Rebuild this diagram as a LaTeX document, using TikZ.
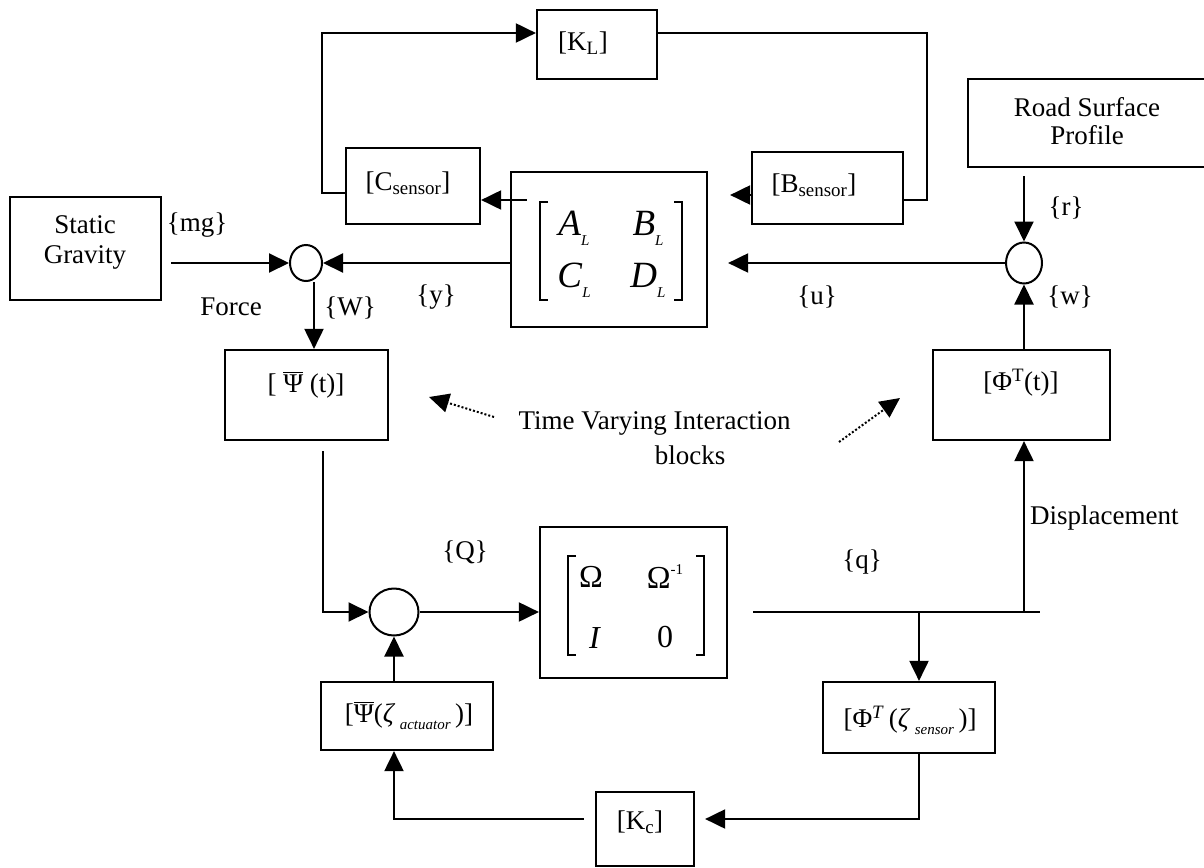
\documentclass[tikz,border=0pt]{standalone}
\usepackage{fontspec}
\setmainfont{Liberation Serif}
\usetikzlibrary{arrows.meta,calc,shapes.geometric}
\newcommand{\barpsi}{\vbox{\hrule height 1.4pt\kern 2pt\hbox{Ψ}}}
\newcommand{\lsub}{{\fontsize{15}{16}\selectfont\raisebox{-10pt}{\textit{L}}}}
\begin{document}
\begin{tikzpicture}[x=1pt,y=-1pt,
  every node/.style={font=\fontsize{27}{30}\selectfont, inner sep=0pt},
  blk/.style={draw, line width=2.2pt, inner sep=0pt},
  ln/.style={line width=2pt},
  arr/.style={ln, -{Triangle[length=20pt,width=19pt]}},
  dotarr/.style={line width=2pt, dotted, -{Triangle[length=20pt,width=19pt]}},
  sumj/.style={draw, ellipse, line width=2pt, inner sep=0pt},
  brk/.style={line width=2pt},
  mA/.style={font=\fontsize{37}{40}\selectfont},
  mB/.style={font=\fontsize{32}{36}\selectfont}]
\useasboundingbox (0,0) rectangle (1204,867);

% blocks
\node[blk, minimum width=120pt, minimum height=69pt]  (KL)   at (597,44.5) {};
\node[blk, minimum width=134pt, minimum height=76pt]  (Cs)   at (413,186) {};
\node[blk, minimum width=151pt, minimum height=72pt]  (Bs)   at (827.5,188) {};
\node[blk, minimum width=196pt, minimum height=155pt] (M1)   at (609,249.5) {};
\node[blk, minimum width=151pt, minimum height=103pt] (SG)   at (85.5,248.5) {};
\node[blk, minimum width=242pt, minimum height=88pt]  (RS)   at (1089,123) {};
\node[blk, minimum width=163pt, minimum height=90pt]  (PsiT) at (306.5,395) {};
\node[blk, minimum width=177pt, minimum height=90pt]  (PhiT) at (1021.5,395) {};
\node[blk, minimum width=187pt, minimum height=151pt] (M2)   at (633.5,602.5) {};
\node[blk, minimum width=172pt, minimum height=68pt]  (PsiA) at (407,716) {};
\node[blk, minimum width=172pt, minimum height=71pt]  (PhiS) at (909,717.5) {};
\node[blk, minimum width=98pt, minimum height=74pt]   (Kc)   at (645,829) {};

% summing junctions
\node[sumj, minimum width=32pt, minimum height=36pt] (c1) at (306,263) {};
\node[sumj, minimum width=36pt, minimum height=41pt] (c2) at (1024,263) {};
\node[sumj, minimum width=49pt, minimum height=47pt] (c3) at (394,612) {};

% block texts
\node (KLt) at (583,43) {[K\textsubscript{L}]};
\node (Cst) at (408,183) {[C\textsubscript{sensor}]};
\node (Bst) at (814,185) {[B\textsubscript{sensor}]};
\node[align=center] (SGt) at (85,242) {Static\\Gravity};
\node[align=center, font=\fontsize{27}{28}\selectfont] (RSt) at (1087,121) {Road Surface\\Profile};
\node (PsiTt) at (306,385) {[ \barpsi\ (t)]};
\node (PhiTt) at (1021,383) {[Φ\textsuperscript{T}(t)]};
\node (PsiAt) at (409,716) {[\barpsi(\textit{ζ}\,{\fontsize{15}{16}\selectfont\raisebox{-7pt}{\textit{actuator}}}\,)]};
\node (PhiSt) at (910,720) {[Φ\textsuperscript{\textit{T}}\,(\textit{ζ}\,{\fontsize{15}{16}\selectfont\raisebox{-7pt}{\textit{sensor}}}\,)]};
\node (Kct) at (640,822) {[K\textsubscript{c}]};

% matrix 1 entries
\node[mA] (AL) at (574,228) {\textit{A}\lsub};
\node[mA] (BL) at (648,228) {\textit{B}\lsub};
\node[mA] (CL) at (574,280) {\textit{C}\lsub};
\node[mA] (DL) at (648,280) {\textit{D}\lsub};
\draw[brk] (548,202) -- (540,202) -- (540,300) -- (548,300);
\draw[brk] (674,202) -- (682,202) -- (682,300) -- (674,300);

% matrix 2 entries
\node[mB] (Om)  at (591,577) {Ω};
\node[mB] (Omi) at (665,577) {Ω{\fontsize{15}{16}\selectfont\raisebox{14pt}{-1}}};
\node[mB] (Id)  at (595,638) {\textit{I}};
\node[mB] (Ze)  at (665,637) {0};
\draw[brk] (576,556) -- (568,556) -- (568,655) -- (576,655);
\draw[brk] (696,556) -- (704,556) -- (704,655) -- (696,655);

% signal labels
\node (mg)   at (197,225) {\{mg\}};
\node (frc)  at (231,307) {Force};
\node (W)    at (350,308) {\{W\}};
\node (ysig) at (436,297) {\{y\}};
\node (usig) at (817,297) {\{u\}};
\node (rsig) at (1066,208) {\{r\}};
\node (wsig) at (1070,297) {\{w\}};
\node (Qsig) at (465,552) {\{Q\}};
\node (qsig) at (862,562) {\{q\}};
\node[anchor=west] (disp) at (1030,518) {Displacement};
\node (tv1) at (654.5,423) {Time Varying Interaction};
\node (tv2) at (690,455) {blocks};

% loop through K_L
\coordinate (csout) at ([yshift=-7pt]Cs.west);
\coordinate (klin)  at ([yshift=11.5pt]KL.west);
\coordinate (klout) at ([yshift=11.5pt]KL.east);
\coordinate (bsin)  at ([yshift=-12pt]Bs.east);
\coordinate (bsout) at ([yshift=-7pt]Bs.west);
\coordinate (csin)  at ([yshift=-14pt]Cs.east);
\draw[arr] (csout) -- ++(-23,0) |- (klin);
\draw[ln] (klout) -- ++(269,0) |- (bsin);
\draw[arr, shorten >=22pt] (bsout) -- (bsout -| M1.east);
\draw[arr, shorten <=-17pt] (csin -| M1.west) -- (csin);

% upper junction (gravity)
\draw[arr, shorten <=9pt] (SG.east |- c1) -- (c1.west);
\draw[arr] (M1.west |- c1) -- (c1.east);
\coordinate (c1b) at ([xshift=8pt]c1.south);
\draw[arr] (c1b) -- (c1b |- PsiT.north);

% road junction
\draw[arr, shorten <=8pt] (RS.south -| c2) -- (c2.north);
\draw[arr, shorten >=20pt] (c2.west) -- (c2.west -| M1.east);
\draw[arr] (PhiT.north -| c2) -- (c2.south);

% lower loop
\coordinate (psib) at ([xshift=16.5pt]PsiT.south);
\draw[arr, shorten <=10pt] (psib) |- (c3.west);
\draw[arr] (c3.east) -- (M2.west |- c3);
\path (M2.east |- c3) ++(25,0) coordinate (qa) ++(287,0) coordinate (qb);
\draw[ln] (qa) -- (qb);
\draw[arr] (qb -| c2) -- (PhiT.south -| c2);
\coordinate (phisx) at ([xshift=10pt]PhiS.north);
\draw[arr] (qa -| phisx) -- (phisx);
\coordinate (phisb) at ([xshift=10pt]PhiS.south);
\coordinate (kcin)  at ([yshift=10pt]Kc.east);
\coordinate (kcout) at ([yshift=10pt]Kc.west);
\draw[arr, shorten >=10pt] (phisb) |- (kcin);
\draw[arr, shorten <=11pt] (kcout) -| (PsiA.south -| c3);
\draw[arr] (PsiA.north -| c3) -- (c3.south);

% dotted pointers
\coordinate (d1tail) at (494,417);
\coordinate (d1tip)  at (429,397);
\coordinate (d2tail) at (839,442);
\coordinate (d2tip)  at (900,398);
\draw[dotarr] (d1tail) -- (d1tip);
\draw[dotarr] (d2tail) -- (d2tip);
\end{tikzpicture}
\end{document}
